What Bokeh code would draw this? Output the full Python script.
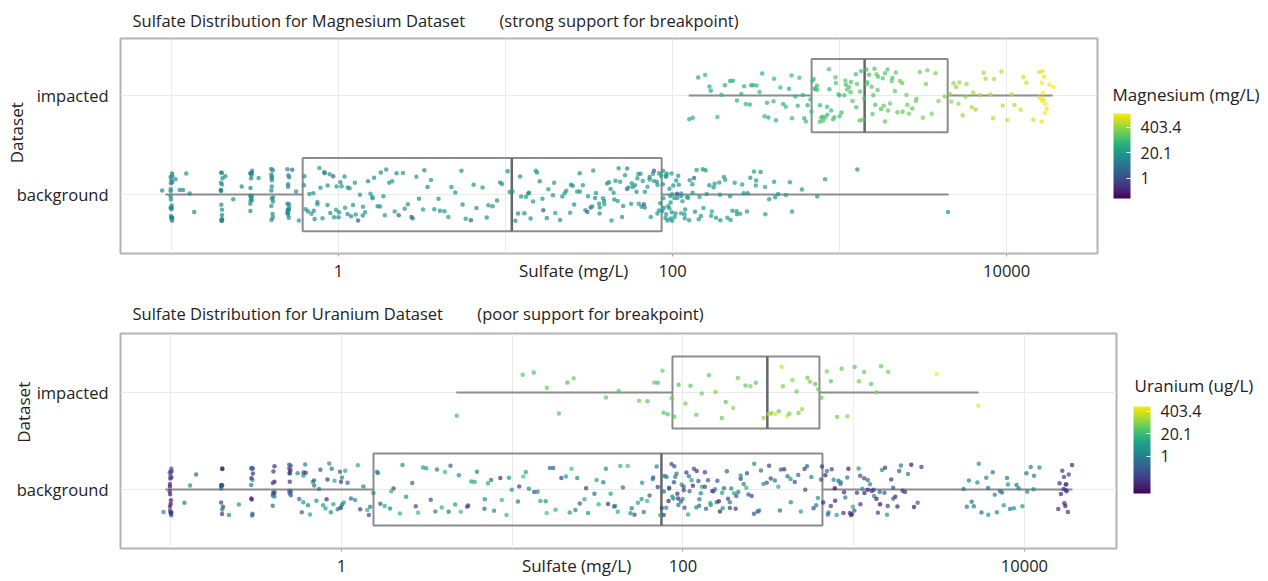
import numpy as np
from bokeh.plotting import figure
from bokeh.models import (ColumnDataSource, Range1d, FixedTicker, LogColorMapper,
                          ColorBar, CustomJSTickFormatter, LinearAxis)
from bokeh.palettes import Viridis256
from bokeh.transform import transform
from bokeh.embed import file_html
from bokeh.resources import INLINE

FONT = "Open Sans"
NB = "\u00a0"

# ---------------- data ----------------
categories = ["background", "impacted"]
x_tick_values = [1, 100, 10000]
grid_values = [0.1, 1, 10, 100, 1000, 10000]
colorbar_ticks = [1, 20.1, 403.4]

# Magnesium dataset: sulfate (mg/L) and magnesium (mg/L) per sample
mg_bg_sulfate = [
    0.1, 0.1, 0.1, 0.1, 0.1, 0.1, 0.1, 0.1, 0.1, 0.1, 0.1, 0.1,
    0.088, 0.105, 0.112, 0.118, 0.122, 0.13, 0.135,
    0.2, 0.2, 0.2, 0.2, 0.2, 0.2, 0.2, 0.2, 0.2, 0.21, 0.235, 0.26,
    0.3, 0.3, 0.3, 0.3, 0.3, 0.3, 0.3, 0.3, 0.33,
    0.4, 0.4, 0.4, 0.4, 0.4, 0.4, 0.4, 0.4, 0.4,
    0.5, 0.5, 0.5, 0.5, 0.5, 0.5, 0.5, 0.5, 0.5, 0.53, 0.56, 0.58,
    0.62, 0.64, 0.66, 0.68, 0.7, 0.72, 0.75, 0.78, 0.8, 0.82, 0.85, 0.88, 0.9, 0.93, 0.96,
    1.0, 1.0, 1.05, 1.1, 1.12, 1.18, 1.2, 1.25, 1.3, 1.35, 1.4, 1.5, 1.55, 1.6, 1.7,
    1.75, 1.8, 1.9, 2.0, 2.1, 2.2, 2.3, 2.5, 2.6, 2.8, 3.0, 3.2, 3.4, 3.7, 4.0,
    4.3, 4.6, 5.0, 5.4, 5.8, 6.2, 6.7, 7.2, 7.8, 8.4, 9.0, 9.6, 10.2, 10.7,
    11.5, 12, 12.5, 13, 13.5, 14, 14.5, 15, 16, 16.5, 17, 18, 19, 20, 21, 22, 23, 24, 25,
    26, 27, 28, 29, 30, 31, 32, 33, 34, 35, 36, 37, 38, 39, 40, 42, 44, 45, 47, 48,
    50, 52, 54, 55, 57, 59, 60, 62, 64, 66, 68, 70, 72, 74, 76, 78, 80, 82, 84, 85.5,
    87, 88, 89, 90, 91, 92, 93, 94, 95, 96, 97, 98, 99, 100, 102, 104, 106, 108, 110, 112,
    115, 118, 120, 123, 126, 130, 133, 136, 140, 145, 150, 155, 160, 165, 170, 176, 182,
    188, 195, 202, 210, 218, 226, 235, 245, 255, 265, 278, 290, 305, 320, 338, 355, 375,
    400, 430, 470, 520, 600, 740, 820, 1282, 4495,
    0.1, 0.1, 0.1, 0.1, 0.1, 0.1, 0.1, 0.1, 0.2, 0.2, 0.2, 0.2, 0.2, 0.2,
    0.3, 0.3, 0.3, 0.3, 0.3, 0.3, 0.4, 0.4, 0.4, 0.4, 0.4, 0.4,
    0.5, 0.5, 0.5, 0.5, 0.5, 0.5,
    0.63, 0.67, 0.71, 0.74, 0.77, 0.83, 0.87, 0.92, 0.98, 1.02, 1.08, 1.15, 1.22, 1.28,
    1.38, 1.45, 1.58, 1.65, 1.85, 1.95, 2.15, 2.4, 2.7, 2.9, 3.3, 3.6, 4.1, 4.8, 5.6,
    6.5, 8.0, 9.3,
    11, 12.2, 13.2, 14.2, 15.5, 17.5, 19.5, 22.5, 24.5, 27.5, 30.5, 33.5, 36.5, 39.5,
    41, 43, 46, 49, 51, 53, 56, 58, 61, 63, 65, 67, 69, 73, 77, 81, 83, 85,
    86.5, 88.5, 90.5, 92.5, 94.5, 96.5, 98.5, 101, 103, 105, 107, 111, 114, 117, 122,
    128, 135, 142, 148, 158, 168, 180, 192, 206, 222, 240, 260, 285, 315, 360, 410, 500,
]
mg_bg_magnesium = [
    9, 11, 7, 12, 8, 10, 14, 9, 6, 11, 13, 8,
    10, 15, 12, 9, 18, 11, 13,
    10, 8, 12, 9, 14, 7, 11, 10, 13, 12, 16, 9,
    11, 9, 13, 8, 12, 10, 7, 14, 12,
    9, 12, 10, 8, 13, 11, 15, 9, 10,
    10, 13, 8, 11, 9, 12, 14, 10, 7, 3, 12, 16,
    14, 18, 11, 22, 16, 9, 25, 13, 19, 2.5, 15, 21, 12, 17, 28, 10, 14, 20, 16, 11,
    24, 13, 18, 1.8, 15, 22, 12, 19, 26, 14, 17, 10, 23, 15, 20, 13, 3, 18, 16, 21,
    12, 25, 14, 19, 11, 17, 22, 15, 13, 20, 2, 16, 24, 14, 18, 12, 21, 15, 17,
    16, 12, 20, 14, 25, 11, 18, 22, 13, 17, 2.2, 19, 15, 28, 12, 21, 16, 24, 14, 10,
    19, 13, 26, 17, 15, 1.5, 20, 12, 23, 18, 14, 30, 16, 11, 21, 19, 13, 25, 17, 15,
    22, 2.8, 14, 20, 18, 12, 27, 16, 19, 13, 24, 15, 21, 17, 1.2, 14, 22, 18, 16,
    18, 22, 15, 26, 20, 13, 30, 17, 24, 19, 16, 28, 21, 14, 25, 18, 1.0, 23, 20, 16,
    27, 19, 15, 32, 22, 18, 25, 14, 21, 29, 17, 24, 20, 16, 35, 22, 19, 26, 15, 23,
    28, 18, 21, 25, 17, 30, 20, 24, 19, 27, 22, 18, 26, 21, 24, 20, 28, 23, 19, 25,
    22, 18, 20,
    10, 12, 8, 11, 9, 13, 7, 10, 11, 9, 12, 8, 13, 10,
    9, 12, 10, 14, 8, 11, 12, 9, 11, 10, 13, 8,
    11, 10, 12, 9, 13, 8,
    15, 20, 12, 18, 24, 11, 16, 2.2, 19, 14, 22, 13, 17, 26, 10, 15, 21, 12, 18, 14,
    23, 16, 1.6, 19, 13, 25, 15, 20, 12, 17, 22, 14,
    17, 13, 21, 15, 26, 12, 19, 23, 14, 18, 2.5, 20, 16, 27, 13, 22, 17, 25, 15, 11,
    20, 14, 24, 18, 16, 1.4, 21, 13, 24, 19, 15, 28,
    19, 23, 16, 27, 21, 14, 31, 18, 25, 20, 17, 29, 22, 15, 26, 19, 1.1, 24, 21, 17,
    28, 20, 16, 33, 23, 19, 26, 15, 22, 30, 18, 25,
]
mg_imp_sulfate = [
    125, 142, 158, 170, 188, 205, 222, 240, 258, 272, 290, 305, 322, 340, 360, 378,
    398, 420, 445, 470, 495, 520, 548, 575, 600, 625, 650, 672,
    690, 705, 720, 740, 758, 775, 795, 815, 835, 855, 880, 905, 930, 955, 980, 1010,
    1040, 1070, 1100, 1130, 1165, 1200, 1240, 1280, 1320, 1360, 1400,
    1430, 1460, 1500, 1540, 1580, 1620, 1670, 1720, 1770, 1820, 1880, 1940, 2000, 2070,
    2140, 2220, 2300, 2400, 2500, 2620, 2750, 2880, 3000, 3150, 3350, 3600, 3900, 4300,
    4600, 4800, 5000, 5250, 5500, 5800, 6100, 6500, 6900, 7400, 7900, 8500, 9200, 10200,
    11000, 12000, 13200, 14500, 15800, 16200, 16400, 16500, 16600, 16700, 16800, 17200, 18850,
    132, 165, 198, 232, 265, 298, 330, 368, 405, 460, 510, 560, 610, 660,
    700, 730, 765, 800, 845, 890, 940, 990, 1060, 1120, 1180, 1260, 1340, 1390,
    1480, 1560, 1640, 1700, 1790, 1860, 1960, 2050, 2180, 2350, 2550, 2850, 3250, 3750,
    4700, 5100, 5650, 6300, 7200, 8200, 9600, 10800, 12600, 15600, 16300, 16600, 16900, 17800,
]
mg_imp_magnesium = [
    55, 48, 62, 40, 70, 52, 45, 66, 58, 74, 50, 63, 80, 56, 68, 47, 90, 60, 72, 85,
    54, 78, 66, 95, 70, 88, 62, 100,
    85, 110, 72, 95, 130, 80, 105, 120, 90, 140, 75, 115, 100, 150, 88, 125, 108, 160,
    95, 135, 118, 145, 102, 170, 128, 112, 155,
    120, 160, 105, 175, 140, 130, 190, 150, 115, 200, 165, 145, 210, 135, 180, 155, 225,
    170, 195, 240, 185, 260, 210, 250, 230, 280, 300, 320,
    350, 420, 380, 500, 450, 400, 560, 480, 620, 520, 700, 600, 780, 850, 680, 900, 820,
    1000, 1300, 1500, 1700, 1400, 1800, 1600, 1900, 1500, 2000,
    58, 44, 66, 52, 75, 49, 70, 61, 82, 57, 92, 64, 79, 96,
    98, 125, 84, 140, 110, 92, 150, 118, 105, 165, 132, 98, 148, 122,
    135, 150, 118, 185, 160, 140, 200, 175, 150, 215, 190, 240, 270, 310,
    400, 470, 430, 540, 500, 650, 720, 800, 950, 1400, 1800, 1600, 2000, 1700,
]
# box statistics, [background, impacted]
mg_whisker_lo = [0.092, 125]
mg_q1 = [0.61, 680]
mg_median = [10.9, 1412]
mg_q3 = [86, 4436]
mg_whisker_hi = [4495, 18850]

# Uranium dataset: sulfate (mg/L) and uranium (ug/L) per sample
u_bg_sulfate = [
    0.1, 0.1, 0.1, 0.1, 0.1, 0.1, 0.1, 0.1, 0.1, 0.1, 0.09, 0.12, 0.13, 0.14,
    0.2, 0.2, 0.2, 0.2, 0.2, 0.2, 0.22, 0.25,
    0.3, 0.3, 0.3, 0.3, 0.3, 0.3, 0.4, 0.4, 0.4, 0.4, 0.4,
    0.5, 0.5, 0.5, 0.5, 0.5, 0.5,
    0.55, 0.58, 0.6, 0.6, 0.62, 0.66, 0.7, 0.72, 0.76, 0.8, 0.83, 0.86, 0.9, 0.95,
    1.0, 1.0, 1.0, 1.05, 1.15, 1.25, 1.35, 1.45,
    1.6, 1.7, 1.8, 1.9, 2.0, 2.2, 2.4, 2.6, 2.8, 3.0, 3.3, 3.6, 3.9, 4.2, 4.6,
    5.0, 5.4, 5.8, 6.3, 6.8, 7.3, 7.9, 8.5, 9.2, 10, 10.8, 11.6, 12.5, 13.5, 14.5,
    15.5, 16.7, 18, 19.3, 20.7, 22, 23.5, 25, 26.5, 28, 30, 32, 34, 36, 38,
    40, 42, 44.5, 47, 49.5, 52, 54.5, 57, 59.5, 62, 64.5, 67, 69.5, 72, 74,
    76, 78, 80, 82, 84, 86, 88, 90, 92, 95, 98, 100, 103, 106, 110, 114, 118, 122, 126,
    130, 135, 140, 145, 150, 156, 162, 168, 175, 182, 190, 198, 206, 215, 224, 233, 243,
    253, 264, 275, 287, 300, 313, 327, 342, 357, 373, 390, 408, 427, 447, 468, 490, 513,
    537, 562, 588, 610, 625, 640, 652,
    665, 690, 715, 740, 770, 800, 830, 860, 890, 925, 960, 1000, 1040, 1080, 1120, 1170,
    1220, 1270, 1320, 1380, 1440, 1500, 1570, 1640, 1720, 1800, 1900, 2000, 2150, 2400,
    4400, 4700, 5000, 5300, 5600, 5900, 6200, 6500, 6800, 7100, 7500, 7900, 8300, 8700,
    9200, 9700, 10200, 10800, 11500, 12300,
    15600, 16200, 16800, 17000, 17200, 17400, 17600, 17800, 18200, 19100,
    0.1, 0.1, 0.1, 0.1, 0.1, 0.1, 0.1, 0.1, 0.2, 0.2, 0.2, 0.2, 0.2,
    0.3, 0.3, 0.3, 0.3, 0.3, 0.4, 0.4, 0.4, 0.4, 0.4, 0.5, 0.5, 0.5, 0.5, 0.5,
    0.56, 0.59, 0.61, 0.64, 0.68, 0.7, 0.74, 0.78, 0.81, 0.85, 0.88, 0.92, 0.97, 1.0,
    1.0, 1.02, 1.1, 1.2, 1.3, 1.4, 1.48, 1.52,
    1.65, 1.95, 2.3, 2.7, 3.1, 3.5, 4.0, 4.4, 4.9, 5.6, 6.1, 7.0, 7.6, 8.8, 9.6, 11,
    12, 14, 16, 17.5, 21.5, 24, 27, 31, 35, 39, 43, 50, 58, 66,
    77, 79, 81, 83, 85, 87, 89, 91, 94, 97, 99, 102, 105, 108, 112, 116, 120, 124, 128,
    133, 138, 143, 148, 153, 159, 165, 172, 179, 186, 194, 202, 211, 220, 238, 258, 280,
    320, 365, 430, 520,
    680, 705, 730, 760, 785, 815, 845, 875, 910, 945, 980, 1020, 1060, 1100, 1150, 1200,
    1250, 1300, 1350, 1410, 1470, 1540, 1600, 1680, 1760, 1850, 1950, 2080, 2250, 2500,
    4550, 4850, 5450, 6050, 6650, 7300, 8100, 9000, 10500, 11200,
    15900, 16500, 17100, 17500, 18000,
]
u_bg_uranium = [
    0.02, 0.05, 0.015, 0.1, 0.03, 0.2, 0.04, 0.012, 0.08, 0.03, 1.5, 0.8, 2.5, 0.3,
    0.05, 0.3, 0.02, 1.0, 0.1, 0.04, 1.2, 3.0,
    0.15, 0.03, 0.6, 0.08, 2.0, 0.05, 0.04, 0.2, 0.015, 0.5, 0.1,
    0.06, 1.5, 0.03, 0.25, 4.0, 0.1,
    2.0, 0.3, 5.0, 0.08, 1.2, 8.0, 0.5, 3.0, 0.15, 6.0, 0.04, 1.8, 10, 0.6,
    0.03, 0.2, 2.5, 7.0, 0.4, 12, 1.0, 0.1,
    3, 0.2, 8, 1.5, 0.05, 12, 2.5, 0.4, 20, 5, 0.1, 1.0, 15, 0.6, 3.5,
    25, 0.08, 6, 1.2, 0.3, 10, 2.0, 0.03, 18, 4, 0.7, 30, 1.5, 0.15, 8,
    2.8, 0.5, 14, 0.06, 5, 22, 1.0, 0.25, 9, 3.2, 0.4, 16, 0.9, 0.04, 6.5,
    2.2, 11, 0.35, 28, 1.6, 0.12, 7, 3.8, 0.7, 19, 0.2, 4.5, 1.3, 0.05, 9.5,
    0.1, 0.5, 2.0, 0.05, 0.3, 5, 0.15, 1.0, 0.04, 0.6, 3, 0.08, 0.2, 8, 0.4, 0.03, 1.5, 0.12, 0.7,
    12, 0.06, 0.25, 2.5, 0.1, 0.9, 0.02, 4, 0.35, 0.08, 1.2, 6, 0.18, 0.05, 0.8, 15, 0.3,
    0.1, 2.0, 0.04, 0.5, 3.5, 0.15, 0.07, 1.0, 9, 0.25, 0.03, 0.6, 2.2, 0.12, 0.4, 5.5, 0.06,
    0.2, 1.4, 0.09, 0.7, 3, 0.15, 0.05,
    0.03, 0.5, 2.5, 0.08, 0.02, 6, 0.2, 0.04, 1.0, 0.015, 0.3, 10, 0.05, 0.12, 3, 0.02,
    0.6, 0.03, 1.5, 0.08, 0.01, 0.25, 4.5, 0.04, 0.15, 0.02, 0.9, 0.05, 0.012, 0.3,
    0.5, 1.5, 0.8, 2.5, 0.4, 1.2, 3, 0.7, 1.8, 0.3, 4, 1.0, 0.6, 2.2,
    0.9, 5, 0.5, 1.4, 0.8, 2.0,
    0.04, 0.02, 0.06, 0.03, 0.1, 0.015, 0.05, 0.03, 0.08, 0.02,
    0.03, 0.015, 0.06, 0.02, 0.1, 0.04, 0.012, 0.05, 0.08, 0.02, 0.5, 0.04, 0.15,
    0.03, 0.25, 0.06, 1.0, 0.02, 0.1, 0.03, 0.4, 0.06, 1.5, 0.05, 0.2, 0.02, 0.8, 0.12,
    0.4, 3.5, 0.06, 1.5, 6.5, 0.2, 0.9, 4, 0.03, 2.2, 0.5, 9, 0.12, 0.05,
    1.3, 5, 0.3, 2.8, 0.08, 11, 0.7, 1.6,
    0.6, 12, 2.0, 0.1, 6, 1.1, 20, 0.3, 3.2, 0.05, 9, 1.7, 0.4, 15, 2.6, 0.08,
    5.5, 0.9, 24, 0.2, 3.8, 1.2, 0.06, 8, 2.1, 0.35, 13, 0.7, 4.2, 0.15,
    0.05, 0.3, 1.2, 0.02, 0.15, 3, 0.08, 0.6, 0.03, 0.2, 2, 0.1, 0.04, 0.8, 5, 0.12, 0.03, 0.4, 1.6,
    0.06, 0.25, 7, 0.05, 0.9, 0.15, 0.02, 2.5, 0.3, 0.07, 1.1, 0.04, 0.5, 4, 0.1, 0.2, 1.3,
    0.05, 0.6, 3, 0.09,
    0.02, 0.4, 0.06, 1.8, 0.01, 0.15, 3.5, 0.03, 0.7, 0.05, 0.015, 0.25, 5.5, 0.04, 0.1, 0.02,
    1.2, 0.06, 0.012, 0.35, 2.5, 0.03, 0.08, 0.5, 0.02, 0.18, 0.04, 0.9, 0.015, 0.06,
    1.0, 0.6, 2.8, 0.45, 1.6, 0.9, 3.5, 0.7, 1.3, 2.4,
    0.03, 0.05, 0.02, 0.07, 0.04,
]
u_imp_sulfate = [
    4.7, 11.5, 13.5, 16, 19, 21, 23, 35, 42, 55, 62, 68, 72, 75, 78, 82, 85,
    90, 95, 102, 110, 120, 130, 142, 155, 168, 180, 195, 210, 230, 250, 270, 295,
    318, 330, 345, 360, 375, 390, 405, 420, 440, 460, 480, 505, 530, 560, 590, 620,
    650, 690, 740, 800, 860, 930, 1000, 1080, 1150, 1250, 1350, 1450, 1600, 3100, 5380,
]
u_imp_uranium = [
    22, 40, 30, 55, 35, 28, 60, 45, 32, 70, 38, 50, 26, 65, 42, 35, 58,
    48, 30, 75, 40, 55, 65, 36, 90, 50, 42, 110, 60, 45, 80, 38, 120,
    350, 70, 400, 55, 300, 85, 450, 60, 100, 48, 75, 130, 52, 90, 40, 65,
    45, 80, 35, 60, 50, 95, 42, 70, 55, 38, 85, 48, 65, 700, 650,
]
u_whisker_lo = [0.093, 4.7]
u_q1 = [1.54, 86.8]
u_median = [74.8, 312]
u_q3 = [656, 630]
u_whisker_hi = [19100, 5380]


# ---------------- helpers ----------------
def _frac(v):
    return v - np.floor(v)


def jitter(n, seed):
    # deterministic scatter offsets (presentation only, like geom_jitter)
    k = np.arange(n, dtype=float) + seed
    hy = _frac(np.sin(k * 91.3458 + 3.1) * 47453.5453)
    hy = _frac(hy * 7.0 + _frac(np.sin(k * 17.131 + 0.7) * 12345.678))
    hx = _frac(np.sin(k * 78.233 + 0.3) * 24634.6345)
    jy = (hy - 0.5) * 0.54
    jx = 10 ** ((hx - 0.5) * 0.012)
    return jx, jy


def make_panel(bg_x, bg_c, imp_x, imp_c, wlo, q1, med, q3, whi,
               c_low, c_high, x_lo, x_hi, y_lo, y_hi,
               height, border_top, border_bottom, border_right,
               title_text, title_standoff, title_line_height,
               xlabel_text, ylabel_text, ylabel_standoff,
               cb_title, cb_title_y, cb_title_standoff, cb_x, cb_y, cb_h):
    p = figure(width=1268, height=height, x_axis_type="log",
               x_range=Range1d(x_lo, x_hi), y_range=Range1d(y_lo, y_hi),
               output_backend="svg", toolbar_location=None, title=title_text,
               min_border_left=120, min_border_right=border_right,
               min_border_top=border_top, min_border_bottom=border_bottom)
    p.background_fill_color = "white"
    p.border_fill_color = "white"
    p.outline_line_color = "#b3b3b3"
    p.outline_line_width = 2

    p.title.align = "left"
    p.title.offset = 12
    p.title.standoff = title_standoff
    p.title.text_line_height = title_line_height
    p.title.text_font = FONT
    p.title.text_font_size = "16.5px"
    p.title.text_font_style = "normal"
    p.title.text_color = "#222222"

    mapper = LogColorMapper(palette=Viridis256, low=c_low, high=c_high)

    # boxes
    ypos = [1, 2]
    half = 0.37
    box = ColumnDataSource(dict(
        y=ypos, lo=wlo, q1=q1, med=med, q3=q3, hi=whi,
        bot=[v - half for v in ypos], top=[v + half for v in ypos]))
    p.segment(x0="lo", y0="y", x1="q1", y1="y", source=box, line_color="#8c8c8c", line_width=2)
    p.segment(x0="q3", y0="y", x1="hi", y1="y", source=box, line_color="#8c8c8c", line_width=2)
    p.quad(left="q1", right="q3", bottom="bot", top="top", source=box,
           fill_color=None, line_color="#8c8c8c", line_width=2)
    p.segment(x0="med", y0="bot", x1="med", y1="top", source=box,
              line_color="#666666", line_width=2.5)

    # jittered points
    xs, ys, cs = [], [], []
    for grp, (vx, vc, seed) in enumerate([(bg_x, bg_c, 1), (imp_x, imp_c, 911)]):
        n = min(len(vx), len(vc))
        jx, jy = jitter(n, seed)
        xs += list(np.array(vx[:n]) * jx)
        ys += list(grp + 1 + jy)
        cs += list(vc[:n])
    pts = ColumnDataSource(dict(x=xs, y=ys, c=cs))
    p.scatter(x="x", y="y", source=pts, size=4.5, marker="circle",
              fill_color=transform("c", mapper), fill_alpha=0.7, line_color=None)

    # axes
    xa = p.xaxis[0]
    xa.ticker = FixedTicker(ticks=x_tick_values)
    xa.formatter = CustomJSTickFormatter(code="return tick.toString();")
    xa.axis_line_color = None
    xa.major_tick_line_color = "#a6a6a6"
    xa.major_tick_out = 3
    xa.major_tick_in = 0
    xa.minor_tick_line_color = None
    xa.major_label_text_font = FONT
    xa.major_label_text_font_size = "16.5px"
    xa.major_label_text_color = "#222222"
    xa.major_label_standoff = 8
    xa.axis_label = xlabel_text
    xa.axis_label_text_font = FONT
    xa.axis_label_text_font_size = "17px"
    xa.axis_label_text_font_style = "normal"
    xa.axis_label_text_color = "#222222"
    xa.axis_label_standoff = -21

    ya = p.yaxis[0]
    ya.ticker = FixedTicker(ticks=[1, 2])
    ya.major_label_overrides = {1: categories[0], 2: categories[1]}
    ya.axis_line_color = None
    ya.major_tick_line_color = None
    ya.minor_tick_line_color = None
    ya.major_tick_out = 0
    ya.major_tick_in = 0
    ya.major_label_text_font = FONT
    ya.major_label_text_font_size = "16.5px"
    ya.major_label_text_color = "#222222"
    ya.major_label_standoff = 12
    ya.axis_label = ylabel_text
    ya.axis_label_text_font = FONT
    ya.axis_label_text_font_size = "17px"
    ya.axis_label_text_font_style = "normal"
    ya.axis_label_text_color = "#222222"
    ya.axis_label_standoff = ylabel_standoff

    p.xgrid.ticker = FixedTicker(ticks=grid_values)
    p.xgrid.grid_line_color = "#ebebeb"
    p.ygrid.ticker = FixedTicker(ticks=[1, 2])
    p.ygrid.grid_line_color = "#ebebeb"

    # colour bar title as a label on a right-hand axis (frame-pixel range)
    p.extra_y_ranges = {"cbt": Range1d(0, 215)}
    cbt = LinearAxis(y_range_name="cbt", ticker=FixedTicker(ticks=[cb_title_y]),
                     major_label_overrides={cb_title_y: cb_title})
    cbt.axis_line_color = None
    cbt.major_tick_line_color = None
    cbt.minor_tick_line_color = None
    cbt.major_tick_out = 0
    cbt.major_tick_in = 0
    cbt.major_label_standoff = cb_title_standoff
    cbt.major_label_text_font = FONT
    cbt.major_label_text_font_size = "17px"
    cbt.major_label_text_color = "#222222"
    p.add_layout(cbt, "right")

    cb = ColorBar(color_mapper=mapper, ticker=FixedTicker(ticks=colorbar_ticks),
                  formatter=CustomJSTickFormatter(code="return tick.toString();"),
                  width=17, height=cb_h, location=(cb_x, cb_y), margin=0, padding=0,
                  label_standoff=10, major_label_text_font=FONT,
                  major_label_text_font_size="16px", major_label_text_color="#222222",
                  major_tick_line_color="white", major_tick_in=4, major_tick_out=0,
                  minor_tick_line_color=None, bar_line_color=None,
                  border_line_color=None, background_fill_color=None)
    p.add_layout(cb)
    return p


p1 = make_panel(mg_bg_sulfate, mg_bg_magnesium, mg_imp_sulfate, mg_imp_magnesium,
                mg_whisker_lo, mg_q1, mg_median, mg_q3, mg_whisker_hi,
                0.095, 2090, 0.0495, 35000, 0.404, 2.576,
                290, 38, 37, 171,
                "Sulfate Distribution for Magnesium Dataset" + NB * 8 + "(strong support for breakpoint)",
                13, 0.9,
                "Sulfate (mg/L)" + NB * 16, NB * 6 + "Dataset", -14,
                "Magnesium (mg/L)", 159, 15, 993, 55, 85)

p2 = make_panel(u_bg_sulfate, u_bg_uranium, u_imp_sulfate, u_imp_uranium,
                u_whisker_lo, u_q1, u_median, u_q3, u_whisker_hi,
                0.0072, 784, 0.0508, 34600, 0.392, 2.608,
                291, 43, 33, 152,
                "Sulfate Distribution for Uranium Dataset" + NB * 8 + "(poor support for breakpoint)",
                17, 1.2,
                "Sulfate (mg/L)" + NB * 19, NB * 13 + "Dataset", -21,
                "Uranium (ug/L)", 163, 18, 1013, 55, 87)

open("out.html", "w").write(file_html([p1, p2], INLINE))
